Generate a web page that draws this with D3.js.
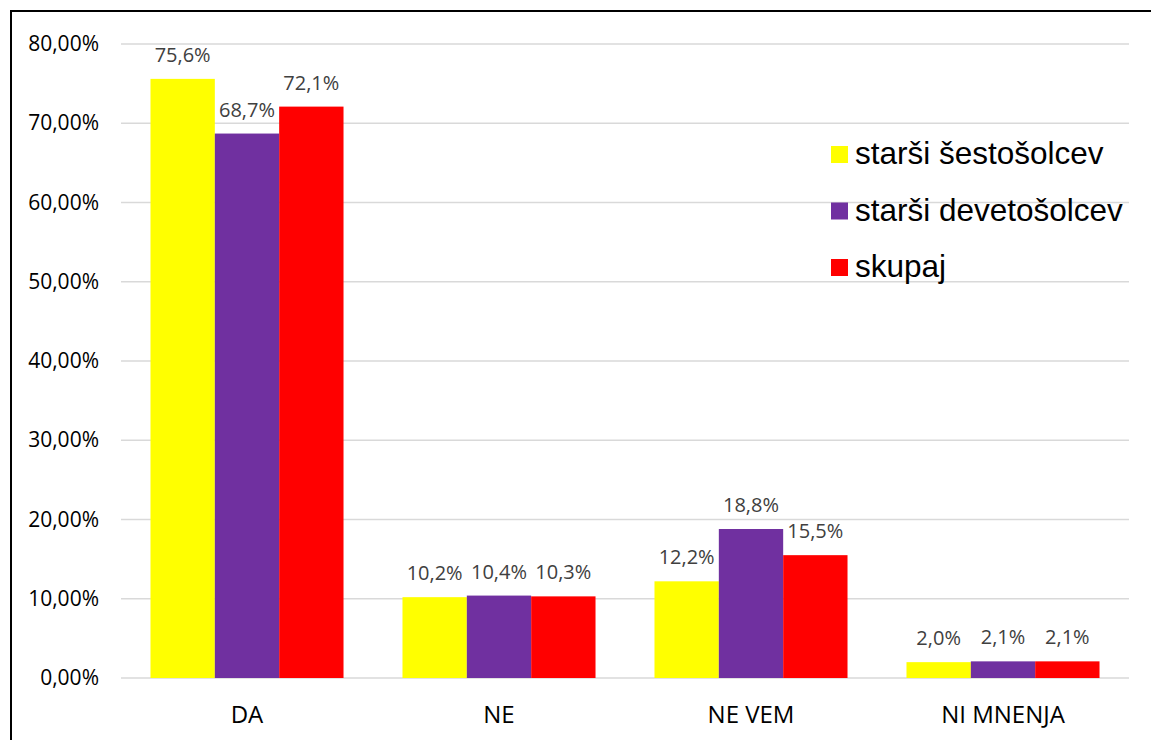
<!DOCTYPE html>
<html>
<head>
    <meta charset="UTF-8">
    <title>Chart</title>
    <script src="https://d3js.org/d3.v7.min.js"></script>
    <style>
        body { margin: 0; background: #fff; }
        svg { display: block; }
    </style>
</head>
<body>
    <div id="chart"></div>

    <script>
        // categories and series
        var categories = ["DA", "NE", "NE VEM", "NI MNENJA"];
        var seriesNames = ["starši šestošolcev", "starši devetošolcev", "skupaj"];
        var seriesColors = ["#ffff00", "#7030a0", "#ff0000"];
        var sestosolci = [75.6, 10.2, 12.2, 2.0];
        var devetosolci = [68.7, 10.4, 18.8, 2.1];
        var skupaj = [72.1, 10.3, 15.5, 2.1];
        var yTicks = [0, 10, 20, 30, 40, 50, 60, 70, 80];

        var seriesValues = [sestosolci, devetosolci, skupaj];

        var W = 1151, H = 740;
        var margin = {top: 44, right: 22, bottom: 62, left: 121};
        var font = "'Open Sans', sans-serif";

        var svg = d3.select("#chart").append("svg")
            .attr("width", W)
            .attr("height", H);

        // outer frame
        svg.append("rect")
            .attr("x", 11).attr("y", 11)
            .attr("width", W + 20).attr("height", H + 20)
            .attr("fill", "none")
            .attr("stroke", "#000")
            .attr("stroke-width", 2);

        var x0 = d3.scaleBand()
            .domain(categories)
            .range([margin.left, W - margin.right])
            .paddingInner(0.234)
            .paddingOuter(0.117);

        var x1 = d3.scaleBand()
            .domain(seriesNames)
            .range([0, x0.bandwidth()]);

        var y = d3.scaleLinear()
            .domain([0, 80])
            .range([H - margin.bottom, margin.top]);

        var fmtTick = function (d) { return d.toFixed(2).replace(".", ",") + "%"; };
        var fmtLabel = function (d) { return d.toFixed(1).replace(".", ",") + "%"; };

        // gridlines
        svg.append("g")
            .selectAll("line")
            .data(yTicks)
            .enter().append("line")
            .attr("x1", margin.left)
            .attr("x2", W - margin.right)
            .attr("y1", function (d) { return y(d); })
            .attr("y2", function (d) { return y(d); })
            .attr("stroke", "#d9d9d9")
            .attr("stroke-width", 1.5);

        // y axis labels
        var yAxis = d3.axisLeft(y).tickValues(yTicks).tickFormat(fmtTick).tickSize(0).tickPadding(0);
        var gy = svg.append("g")
            .attr("transform", "translate(99,0)")
            .call(yAxis);
        gy.select(".domain").remove();
        gy.selectAll("text")
            .attr("font-family", font)
            .attr("font-size", 21)
            .attr("fill", "#000");

        // x axis labels
        var xAxis = d3.axisBottom(x0).tickSize(0).tickPadding(0);
        var gx = svg.append("g")
            .attr("transform", "translate(0,723)")
            .call(xAxis);
        gx.select(".domain").remove();
        gx.selectAll("text")
            .attr("dy", 0)
            .attr("font-family", font)
            .attr("font-size", 24)
            .attr("fill", "#000");

        // bars
        var groups = svg.append("g")
            .selectAll("g")
            .data(categories)
            .enter().append("g")
            .attr("transform", function (d) { return "translate(" + x0(d) + ",0)"; });

        var rows = function (d, i) {
            return seriesNames.map(function (s, j) { return {s: s, j: j, v: seriesValues[j][i]}; });
        };

        groups.selectAll("rect")
            .data(rows)
            .enter().append("rect")
            .attr("x", function (d) { return x1(d.s); })
            .attr("y", function (d) { return y(d.v); })
            .attr("width", x1.bandwidth())
            .attr("height", function (d) { return y(0) - y(d.v); })
            .attr("fill", function (d) { return seriesColors[d.j]; });

        groups.selectAll("text")
            .data(rows)
            .enter().append("text")
            .attr("x", function (d) { return x1(d.s) + x1.bandwidth() / 2; })
            .attr("y", function (d) { return y(d.v) - 17; })
            .attr("text-anchor", "middle")
            .attr("font-family", font)
            .attr("font-size", 20)
            .attr("fill", "#404040")
            .text(function (d) { return fmtLabel(d.v); });

        // legend
        var legend = svg.append("g")
            .selectAll("g")
            .data(seriesNames)
            .enter().append("g")
            .attr("transform", function (d, i) { return "translate(831," + (146 + i * 56.5) + ")"; });

        legend.append("rect")
            .attr("width", 17).attr("height", 17)
            .attr("fill", function (d, i) { return seriesColors[i]; });

        legend.append("text")
            .attr("x", 24)
            .attr("y", 18)
            .attr("font-family", "'Liberation Sans', Arial, sans-serif")
            .attr("font-size", 31.5)
            .attr("fill", "#000")
            .text(function (d) { return d; });
    </script>
</body>
</html>
